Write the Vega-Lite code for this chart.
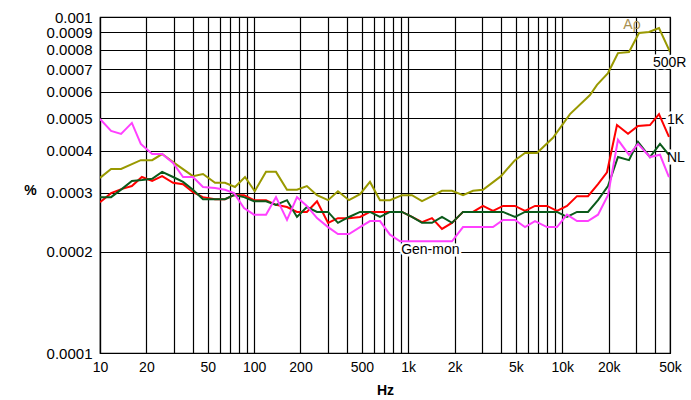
{
  "$schema": "https://vega.github.io/schema/vega-lite/v6.json",
  "width": 570,
  "height": 336,
  "autosize": {"type": "none"},
  "padding": {"left": 100, "top": 17, "right": 21, "bottom": 47},
  "background": "white",
  "config": {
    "view": {"stroke": "#000", "strokeWidth": 1.2},
    "font": "Liberation Sans",
    "axis": {
      "grid": true,
      "gridColor": "#000",
      "gridOpacity": 1,
      "gridWidth": 1.2,
      "tickSize": 0,
      "domainColor": "#000",
      "domainWidth": 1.2,
      "labelColor": "#000",
      "labelFont": "Liberation Sans",
      "labelFontSize": 14,
      "labelOverlap": false,
      "labelFlush": false,
      "titleFont": "Liberation Sans",
      "titleFontSize": 14,
      "titleFontWeight": "bold",
      "titleColor": "#000"
    }
  },
  "datasets": {
    "curves": [
      {"s": "500R", "f": 10, "v": 0.000332},
      {"s": "500R", "f": 11.8, "v": 0.000353},
      {"s": "500R", "f": 13.7, "v": 0.000353},
      {"s": "500R", "f": 18.4, "v": 0.000375},
      {"s": "500R", "f": 21.8, "v": 0.000375},
      {"s": "500R", "f": 25.3, "v": 0.000391},
      {"s": "500R", "f": 29.8, "v": 0.000370},
      {"s": "500R", "f": 40.1, "v": 0.000336},
      {"s": "500R", "f": 46.6, "v": 0.000341},
      {"s": "500R", "f": 55.8, "v": 0.000321},
      {"s": "500R", "f": 64.7, "v": 0.000321},
      {"s": "500R", "f": 75.2, "v": 0.000312},
      {"s": "500R", "f": 87.3, "v": 0.000334},
      {"s": "500R", "f": 101, "v": 0.000303},
      {"s": "500R", "f": 119.5, "v": 0.000346},
      {"s": "500R", "f": 138.7, "v": 0.000346},
      {"s": "500R", "f": 163.5, "v": 0.000306},
      {"s": "500R", "f": 189.8, "v": 0.000306},
      {"s": "500R", "f": 220, "v": 0.000314},
      {"s": "500R", "f": 256, "v": 0.000295},
      {"s": "500R", "f": 302, "v": 0.000285},
      {"s": "500R", "f": 350, "v": 0.000303},
      {"s": "500R", "f": 413, "v": 0.000285},
      {"s": "500R", "f": 487, "v": 0.000297},
      {"s": "500R", "f": 565, "v": 0.000323},
      {"s": "500R", "f": 656, "v": 0.000285},
      {"s": "500R", "f": 762, "v": 0.000285},
      {"s": "500R", "f": 912, "v": 0.000295},
      {"s": "500R", "f": 1058, "v": 0.000295},
      {"s": "500R", "f": 1229, "v": 0.000283},
      {"s": "500R", "f": 1427, "v": 0.000293},
      {"s": "500R", "f": 1657, "v": 0.000304},
      {"s": "500R", "f": 1924, "v": 0.000304},
      {"s": "500R", "f": 2268, "v": 0.000295},
      {"s": "500R", "f": 2633, "v": 0.000304},
      {"s": "500R", "f": 3058, "v": 0.000306},
      {"s": "500R", "f": 4001, "v": 0.000336},
      {"s": "500R", "f": 4933, "v": 0.000375},
      {"s": "500R", "f": 5728, "v": 0.000394},
      {"s": "500R", "f": 6853, "v": 0.000394},
      {"s": "500R", "f": 8700, "v": 0.000437},
      {"s": "500R", "f": 11219, "v": 0.000514},
      {"s": "500R", "f": 15128, "v": 0.000586},
      {"s": "500R", "f": 16799, "v": 0.000628},
      {"s": "500R", "f": 19797, "v": 0.000681},
      {"s": "500R", "f": 22981, "v": 0.000781},
      {"s": "500R", "f": 27097, "v": 0.000787},
      {"s": "500R", "f": 31457, "v": 0.000896},
      {"s": "500R", "f": 36526, "v": 0.000902},
      {"s": "500R", "f": 42415, "v": 0.000927},
      {"s": "500R", "f": 50000, "v": 0.000787},

      {"s": "1K", "f": 10, "v": 0.000281},
      {"s": "1K", "f": 11.8, "v": 0.000299},
      {"s": "1K", "f": 13.9, "v": 0.000308},
      {"s": "1K", "f": 16.1, "v": 0.000314},
      {"s": "1K", "f": 18.7, "v": 0.000334},
      {"s": "1K", "f": 21.8, "v": 0.000325},
      {"s": "1K", "f": 25.3, "v": 0.000336},
      {"s": "1K", "f": 29.8, "v": 0.000321},
      {"s": "1K", "f": 34.6, "v": 0.000318},
      {"s": "1K", "f": 40.1, "v": 0.000301},
      {"s": "1K", "f": 46.6, "v": 0.000291},
      {"s": "1K", "f": 55.8, "v": 0.000287},
      {"s": "1K", "f": 64.7, "v": 0.000287},
      {"s": "1K", "f": 74.1, "v": 0.000295},
      {"s": "1K", "f": 86, "v": 0.000295},
      {"s": "1K", "f": 99.9, "v": 0.000285},
      {"s": "1K", "f": 119.5, "v": 0.000285},
      {"s": "1K", "f": 138.7, "v": 0.000276},
      {"s": "1K", "f": 163.5, "v": 0.000272},
      {"s": "1K", "f": 189.8, "v": 0.000263},
      {"s": "1K", "f": 220, "v": 0.000263},
      {"s": "1K", "f": 256, "v": 0.000283},
      {"s": "1K", "f": 302, "v": 0.000244},
      {"s": "1K", "f": 350, "v": 0.000252},
      {"s": "1K", "f": 413, "v": 0.000252},
      {"s": "1K", "f": 487, "v": 0.000254},
      {"s": "1K", "f": 565, "v": 0.000263},
      {"s": "1K", "f": 656, "v": 0.000263},
      {"s": "1K", "f": 762, "v": 0.000263},
      {"s": "1K", "f": 912, "v": 0.000263},
      {"s": "1K", "f": 1058, "v": 0.000254},
      {"s": "1K", "f": 1229, "v": 0.000245},
      {"s": "1K", "f": 1427, "v": 0.000252},
      {"s": "1K", "f": 1657, "v": 0.000234},
      {"s": "1K", "f": 1924, "v": 0.000244},
      {"s": "1K", "f": 2268, "v": 0.000263},
      {"s": "1K", "f": 2633, "v": 0.000263},
      {"s": "1K", "f": 3058, "v": 0.000274},
      {"s": "1K", "f": 3550, "v": 0.000265},
      {"s": "1K", "f": 4123, "v": 0.000274},
      {"s": "1K", "f": 4933, "v": 0.000274},
      {"s": "1K", "f": 5728, "v": 0.000265},
      {"s": "1K", "f": 6651, "v": 0.000274},
      {"s": "1K", "f": 7958, "v": 0.000274},
      {"s": "1K", "f": 9239, "v": 0.000265},
      {"s": "1K", "f": 10728, "v": 0.000274},
      {"s": "1K", "f": 12457, "v": 0.000293},
      {"s": "1K", "f": 14683, "v": 0.000293},
      {"s": "1K", "f": 17052, "v": 0.000318},
      {"s": "1K", "f": 19503, "v": 0.000345},
      {"s": "1K", "f": 22640, "v": 0.000477},
      {"s": "1K", "f": 26696, "v": 0.000449},
      {"s": "1K", "f": 30991, "v": 0.000474},
      {"s": "1K", "f": 37074, "v": 0.000477},
      {"s": "1K", "f": 42415, "v": 0.000514},
      {"s": "1K", "f": 49243, "v": 0.000440},

      {"s": "NL", "f": 10, "v": 0.000291},
      {"s": "NL", "f": 11.8, "v": 0.000291},
      {"s": "NL", "f": 13.9, "v": 0.000308},
      {"s": "NL", "f": 16.1, "v": 0.000325},
      {"s": "NL", "f": 18.7, "v": 0.000327},
      {"s": "NL", "f": 21.8, "v": 0.000330},
      {"s": "NL", "f": 25.3, "v": 0.000346},
      {"s": "NL", "f": 29.8, "v": 0.000334},
      {"s": "NL", "f": 34.6, "v": 0.000323},
      {"s": "NL", "f": 40.1, "v": 0.000306},
      {"s": "NL", "f": 46.6, "v": 0.000287},
      {"s": "NL", "f": 55.8, "v": 0.000287},
      {"s": "NL", "f": 64.7, "v": 0.000287},
      {"s": "NL", "f": 74.1, "v": 0.000295},
      {"s": "NL", "f": 86, "v": 0.000291},
      {"s": "NL", "f": 99.9, "v": 0.000283},
      {"s": "NL", "f": 119.5, "v": 0.000283},
      {"s": "NL", "f": 138.7, "v": 0.000276},
      {"s": "NL", "f": 163.5, "v": 0.000285},
      {"s": "NL", "f": 189.8, "v": 0.000254},
      {"s": "NL", "f": 220, "v": 0.000272},
      {"s": "NL", "f": 256, "v": 0.000263},
      {"s": "NL", "f": 302, "v": 0.000263},
      {"s": "NL", "f": 350, "v": 0.000244},
      {"s": "NL", "f": 413, "v": 0.000254},
      {"s": "NL", "f": 487, "v": 0.000263},
      {"s": "NL", "f": 565, "v": 0.000263},
      {"s": "NL", "f": 656, "v": 0.000254},
      {"s": "NL", "f": 762, "v": 0.000263},
      {"s": "NL", "f": 912, "v": 0.000263},
      {"s": "NL", "f": 1058, "v": 0.000254},
      {"s": "NL", "f": 1229, "v": 0.000244},
      {"s": "NL", "f": 1427, "v": 0.000244},
      {"s": "NL", "f": 1657, "v": 0.000254},
      {"s": "NL", "f": 1924, "v": 0.000244},
      {"s": "NL", "f": 2268, "v": 0.000263},
      {"s": "NL", "f": 2633, "v": 0.000263},
      {"s": "NL", "f": 3058, "v": 0.000263},
      {"s": "NL", "f": 4123, "v": 0.000263},
      {"s": "NL", "f": 4933, "v": 0.000254},
      {"s": "NL", "f": 5728, "v": 0.000263},
      {"s": "NL", "f": 9239, "v": 0.000263},
      {"s": "NL", "f": 10728, "v": 0.000254},
      {"s": "NL", "f": 12457, "v": 0.000263},
      {"s": "NL", "f": 14683, "v": 0.000263},
      {"s": "NL", "f": 17052, "v": 0.000285},
      {"s": "NL", "f": 19797, "v": 0.000314},
      {"s": "NL", "f": 22981, "v": 0.000383},
      {"s": "NL", "f": 27097, "v": 0.000375},
      {"s": "NL", "f": 30991, "v": 0.000425},
      {"s": "NL", "f": 37074, "v": 0.000383},
      {"s": "NL", "f": 43052, "v": 0.000419},
      {"s": "NL", "f": 49243, "v": 0.000389},

      {"s": "Gen-mon", "f": 10, "v": 0.000497},
      {"s": "Gen-mon", "f": 11.8, "v": 0.000458},
      {"s": "Gen-mon", "f": 13.7, "v": 0.000449},
      {"s": "Gen-mon", "f": 16.1, "v": 0.000484},
      {"s": "Gen-mon", "f": 18.4, "v": 0.000419},
      {"s": "Gen-mon", "f": 21.8, "v": 0.000391},
      {"s": "Gen-mon", "f": 25.3, "v": 0.000391},
      {"s": "Gen-mon", "f": 29.8, "v": 0.000368},
      {"s": "Gen-mon", "f": 34.6, "v": 0.000334},
      {"s": "Gen-mon", "f": 40.1, "v": 0.000334},
      {"s": "Gen-mon", "f": 46.6, "v": 0.000312},
      {"s": "Gen-mon", "f": 55.8, "v": 0.000310},
      {"s": "Gen-mon", "f": 64.7, "v": 0.000306},
      {"s": "Gen-mon", "f": 74.1, "v": 0.000299},
      {"s": "Gen-mon", "f": 86, "v": 0.000270},
      {"s": "Gen-mon", "f": 99.9, "v": 0.000258},
      {"s": "Gen-mon", "f": 119.5, "v": 0.000258},
      {"s": "Gen-mon", "f": 138.7, "v": 0.000291},
      {"s": "Gen-mon", "f": 163.5, "v": 0.000249},
      {"s": "Gen-mon", "f": 189.8, "v": 0.000291},
      {"s": "Gen-mon", "f": 220, "v": 0.000274},
      {"s": "Gen-mon", "f": 256, "v": 0.000252},
      {"s": "Gen-mon", "f": 302, "v": 0.000237},
      {"s": "Gen-mon", "f": 350, "v": 0.000226},
      {"s": "Gen-mon", "f": 413, "v": 0.000226},
      {"s": "Gen-mon", "f": 487, "v": 0.000237},
      {"s": "Gen-mon", "f": 565, "v": 0.000247},
      {"s": "Gen-mon", "f": 656, "v": 0.000247},
      {"s": "Gen-mon", "f": 762, "v": 0.000225},
      {"s": "Gen-mon", "f": 885, "v": 0.000215},
      {"s": "Gen-mon", "f": 1924, "v": 0.000215},
      {"s": "Gen-mon", "f": 2268, "v": 0.000237},
      {"s": "Gen-mon", "f": 3550, "v": 0.000237},
      {"s": "Gen-mon", "f": 4123, "v": 0.000249},
      {"s": "Gen-mon", "f": 4933, "v": 0.000249},
      {"s": "Gen-mon", "f": 5728, "v": 0.000237},
      {"s": "Gen-mon", "f": 6651, "v": 0.000247},
      {"s": "Gen-mon", "f": 7958, "v": 0.000237},
      {"s": "Gen-mon", "f": 9239, "v": 0.000237},
      {"s": "Gen-mon", "f": 10728, "v": 0.000258},
      {"s": "Gen-mon", "f": 12457, "v": 0.000247},
      {"s": "Gen-mon", "f": 14683, "v": 0.000247},
      {"s": "Gen-mon", "f": 17052, "v": 0.000258},
      {"s": "Gen-mon", "f": 19797, "v": 0.000295},
      {"s": "Gen-mon", "f": 22981, "v": 0.000431},
      {"s": "Gen-mon", "f": 27097, "v": 0.000389},
      {"s": "Gen-mon", "f": 30991, "v": 0.000419},
      {"s": "Gen-mon", "f": 37074, "v": 0.000383},
      {"s": "Gen-mon", "f": 43052, "v": 0.000389},
      {"s": "Gen-mon", "f": 49243, "v": 0.000334}
    ],
    "labels": [
      {"t": "500R", "f": 38780, "v": 0.000730},
      {"t": "1K", "f": 47800, "v": 0.000494},
      {"t": "NL", "f": 47800, "v": 0.000381},
      {"t": "Gen-mon", "f": 900, "v": 0.000202}
    ],
    "ap": [
      {"t": "Aρ", "f": 28330, "v": 0.000947}
    ]
  },
  "encoding": {
    "x": {
      "field": "f", "type": "quantitative",
      "scale": {"type": "log", "domain": [10, 50000], "nice": false},
      "axis": {
        "title": "Hz",
        "values": [10, 20, 30, 40, 50, 60, 70, 80, 90, 100, 200, 300, 400, 500, 600, 700, 800, 900, 1000, 2000, 3000, 4000, 5000, 6000, 7000, 8000, 9000, 10000, 20000, 30000, 40000, 50000],
        "labelExpr": "indexof([10,20,50,100,200,500,1000,2000,5000,10000,20000,50000], datum.value) >= 0 ? (datum.value >= 1000 ? (datum.value / 1000) + 'k' : '' + datum.value) : ''",
        "labelPadding": 7,
        "titleY": 37,
        "titleBaseline": "middle"
      }
    },
    "y": {
      "field": "v", "type": "quantitative",
      "scale": {"type": "log", "domain": [0.0001, 0.001], "nice": false},
      "axis": {
        "title": "%",
        "values": [0.0001, 0.0002, 0.0003, 0.0004, 0.0005, 0.0006, 0.0007, 0.0008, 0.0009, 0.001],
        "format": ".4~f",
        "labelFontSize": 15,
        "labelPadding": 8,
        "titleAngle": 0,
        "titleX": -70,
        "titleY": 173,
        "titleAlign": "center",
        "titleBaseline": "middle"
      }
    }
  },
  "layer": [
    {
      "data": {"name": "labels"},
      "mark": {"type": "text", "align": "left", "baseline": "middle", "fontSize": 14, "font": "Liberation Sans", "stroke": "white", "strokeWidth": 5, "fill": "white"},
      "encoding": {
        "text": {"field": "t"}
      }
    },
    {
      "data": {"name": "curves"},
      "mark": {"type": "line", "strokeWidth": 2, "clip": true},
      "encoding": {
        "color": {
          "field": "s", "type": "nominal",
          "scale": {"domain": ["500R", "1K", "NL", "Gen-mon"], "range": ["#999900", "#ff0000", "#0a5a1a", "#ff40ff"]},
          "legend": null
        }
      }
    },
    {
      "data": {"name": "labels"},
      "mark": {"type": "text", "align": "left", "baseline": "middle", "fontSize": 14, "font": "Liberation Sans", "color": "#000"},
      "encoding": {
        "text": {"field": "t"}
      }
    },
    {
      "data": {"name": "ap"},
      "mark": {"type": "text", "align": "center", "baseline": "middle", "fontSize": 14, "font": "Liberation Sans", "color": "#a88f50"},
      "encoding": {
        "text": {"field": "t"}
      }
    }
  ]
}
